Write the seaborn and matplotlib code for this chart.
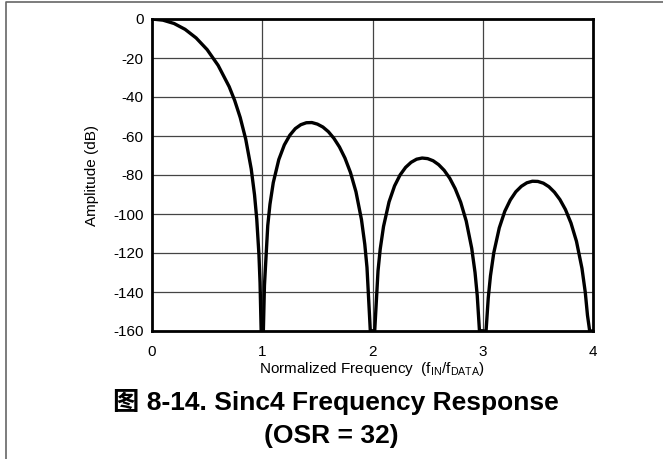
import pandas as pd
import seaborn as sns
import matplotlib.pyplot as plt
from matplotlib.lines import Line2D

# Values (dB, clipped at -160)
lobe0_f = [0.0, 0.1, 0.2, 0.3, 0.4, 0.5, 0.6, 0.7, 0.75, 0.8, 0.85, 0.9, 0.93, 0.95, 0.97, 0.98, 0.99, 1.0]
lobe0_db = [0.0, -0.6, -2.3, -5.3, -9.7, -15.7, -23.8, -34.7, -41.8, -50.5, -61.6, -76.9, -90.2, -102.5, -120.8, -135.2, -159.7, -160]

lobe1_f = [1.0, 1.01, 1.02, 1.05, 1.07, 1.1, 1.15, 1.2, 1.25, 1.3, 1.35, 1.4, 1.45, 1.5, 1.55, 1.6,
           1.65, 1.7, 1.75, 1.8, 1.85, 1.9, 1.93, 1.95, 1.98, 2.0]
lobe1_db = [-160, -160, -136.6, -105.9, -95.0, -83.9, -72.1, -64.6, -59.6, -56.2, -54.2, -53.2, -53.1, -53.9, -55.4, -57.8,
            -61.2, -65.6, -71.3, -78.7, -88.6, -102.9, -115.5, -127.4, -159.7, -160]

lobe2_f = [2.0, 2.02, 2.05, 2.07, 2.1, 2.15, 2.2, 2.25, 2.3, 2.35, 2.4, 2.45, 2.5, 2.55, 2.6,
           2.65, 2.7, 2.75, 2.8, 2.85, 2.9, 2.93, 2.95, 2.97, 3.0]
lobe2_db = [-160, -160, -129.2, -118.0, -106.4, -93.8, -85.6, -80.0, -76.1, -73.5, -71.9, -71.3, -71.6, -72.7, -74.7,
            -77.6, -81.6, -87.0, -94.0, -103.6, -117.6, -130.0, -141.8, -159.7, -160]

lobe3_f = [3.0, 3.03, 3.05, 3.07, 3.1, 3.15, 3.2, 3.25, 3.3, 3.35, 3.4, 3.45, 3.5, 3.55, 3.6,
           3.65, 3.7, 3.75, 3.8, 3.85, 3.9, 3.93, 3.95, 3.97, 4.0]
lobe3_db = [-160, -160, -143.0, -131.7, -119.9, -107.1, -98.6, -92.8, -88.6, -85.8, -84.0, -83.2, -83.3, -84.2, -86.0,
            -88.8, -92.6, -97.7, -104.6, -114.0, -127.9, -140.2, -152.0, -160, -160]

y_ticks = [0, -20, -40, -60, -80, -100, -120, -140, -160]
x_ticks = [0, 1, 2, 3, 4]

df = pd.DataFrame({
    'freq': lobe0_f + lobe1_f + lobe2_f + lobe3_f,
    'amp': lobe0_db + lobe1_db + lobe2_db + lobe3_db,
    'lobe': [0] * len(lobe0_f) + [1] * len(lobe1_f) + [2] * len(lobe2_f) + [3] * len(lobe3_f),
})

sns.set_style('white')
plt.rcParams['font.family'] = ['Liberation Sans', 'Noto Sans CJK SC', 'DejaVu Sans']
plt.rcParams['mathtext.default'] = 'regular'
plt.rcParams['axes.unicode_minus'] = False
plt.rcParams['text.color'] = 'black'
plt.rcParams['axes.labelcolor'] = 'black'

fig = plt.figure(figsize=(6.63, 4.59), dpi=100)
ax = fig.add_axes([152 / 663, 1 - 331 / 459, (593 - 152) / 663, (331 - 19) / 459])

sns.lineplot(data=df, x='freq', y='amp', units='lobe', estimator=None, color='black',
             linewidth=2.4, ax=ax, legend=False, sort=False)

ax.set_xlim(0, 4)
ax.set_ylim(-160, 0)
ax.set_xticks(x_ticks)
ax.set_yticks(y_ticks)
ax.tick_params(axis='y', length=0, labelsize=11, pad=6, colors='black')
ax.tick_params(axis='x', length=0, labelsize=11, pad=10, colors='black')

# Grid
for y in y_ticks[1:-1]:
    ax.axhline(y, color='#444444', linewidth=0.9, zorder=0)
for x in x_ticks[1:-1]:
    ax.axvline(x, color='#444444', linewidth=0.9, zorder=0)

for s in ax.spines.values():
    s.set_linewidth(2)
    s.set_color('black')

ax.set_xlabel(r'Normalized Frequency  (f$_{IN}$/f$_{DATA}$)', fontsize=11, labelpad=1)
ax.set_ylabel('Amplitude (dB)', fontsize=11, labelpad=10)

# Caption
fig.text(336 / 663, 1 - 402 / 459, '图 8-14. Sinc4 Frequency Response', fontsize=19, fontweight='bold',
         ha='center', va='center', color='black')
fig.text(331 / 663, 1 - 436 / 459, '(OSR = 32)', fontsize=19, fontweight='bold', ha='center', va='center',
         color='black')

# Outer frame (top and left edges only)
fig.lines.append(Line2D([6 / 663, 6 / 663, 1], [0, 1 - 2 / 459, 1 - 2 / 459], transform=fig.transFigure,
                        color='#666666', linewidth=1.2))

plt.savefig('out.png', dpi=100)
